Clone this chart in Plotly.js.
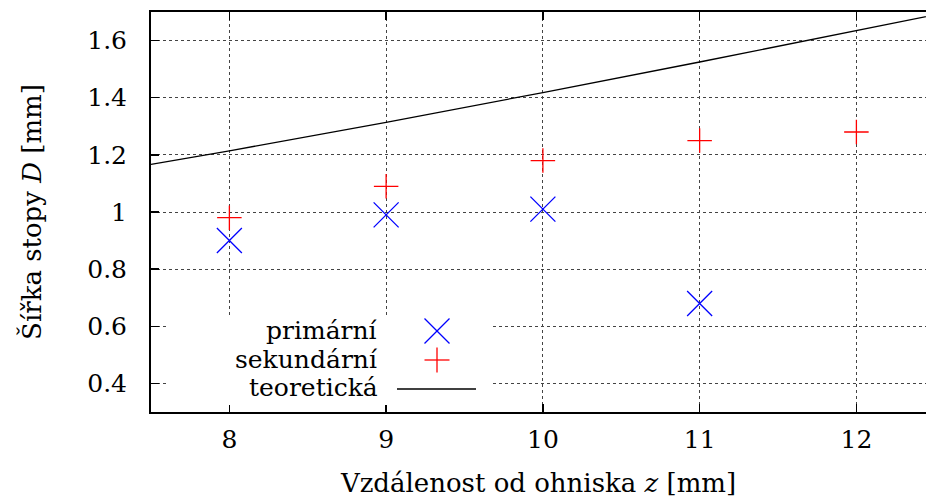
<!DOCTYPE html>
<html>
<head>
<meta charset="utf-8">
<script src="https://cdn.plot.ly/plotly-3.0.1.min.js"></script>
<style>html,body{margin:0;padding:0;background:#fff;}#chart{width:926px;height:500px;}</style>
</head>
<body>
<div id="chart"></div>
<script>
// Data
var zPoints = [8, 9, 10, 11];
var primarni = [0.90, 0.99, 1.01, 0.68];
var zSecondary = [8, 9, 10, 11, 12];
var sekundarni = [0.98, 1.09, 1.18, 1.25, 1.28];
var zTheory = [7.5, 8, 9, 10, 11, 12, 12.5];
var teoreticka = [1.167, 1.214, 1.314, 1.418, 1.525, 1.634, 1.69];
var xTicks = [8, 9, 10, 11, 12];
var yTicks = [0.4, 0.6, 0.8, 1, 1.2, 1.4, 1.6];
var yTickText = ['0.4', '0.6', '0.8', '1', '1.2', '1.4', '1.6'];
var legendLabels = ['primární', 'sekundární', 'teoretická'];

var FONT = 'DejaVu Serif';
var TFS = 25;   // tick labels
var FS = 26;    // axis titles
var LFS = 25;   // legend

var traces = [
  {x: zTheory, y: teoreticka, mode: 'lines', line: {color: '#000', width: 1.3}, name: legendLabels[2], showlegend: false, hoverinfo: 'skip'},
  {x: zPoints, y: primarni, mode: 'markers', marker: {symbol: 'x-thin', size: 25, line: {color: '#0000ff', width: 1.3}}, name: legendLabels[0], showlegend: false},
  {x: zSecondary, y: sekundarni, mode: 'markers', marker: {symbol: 'cross-thin', size: 17.5, line: {color: '#ff0000', width: 1.3}}, name: legendLabels[1], showlegend: false}
];

// custom legend (text left of sample, as in reference)
function px(v){ return (v - 151) / 775; }
function py(v){ return (412 - v) / 400; }
var rows = [331, 360, 389];
var textRows = [330, 359, 387];
var symX = 437, half = 12.5;
var shapes = [
  {type: 'rect', xref: 'paper', yref: 'paper', x0: px(168), x1: px(493), y0: py(405), y1: py(315), fillcolor: '#fff', line: {width: 0}, layer: 'above'},
  {type: 'line', xref: 'paper', yref: 'paper', x0: px(symX - half), x1: px(symX + half), y0: py(rows[0] - half), y1: py(rows[0] + half), line: {color: '#0000ff', width: 1.3}, layer: 'above'},
  {type: 'line', xref: 'paper', yref: 'paper', x0: px(symX - half), x1: px(symX + half), y0: py(rows[0] + half), y1: py(rows[0] - half), line: {color: '#0000ff', width: 1.3}, layer: 'above'},
  {type: 'line', xref: 'paper', yref: 'paper', x0: px(symX - half), x1: px(symX + half), y0: py(rows[1]), y1: py(rows[1]), line: {color: '#ff0000', width: 1.3}, layer: 'above'},
  {type: 'line', xref: 'paper', yref: 'paper', x0: px(symX), x1: px(symX), y0: py(rows[1] - half), y1: py(rows[1] + half), line: {color: '#ff0000', width: 1.3}, layer: 'above'},
  {type: 'line', xref: 'paper', yref: 'paper', x0: px(397), x1: px(476), y0: py(rows[2]), y1: py(rows[2]), line: {color: '#000', width: 1.3}, layer: 'above'}
];
var annotations = legendLabels.map(function(t, i){
  return {xref: 'paper', yref: 'paper', x: px(380), y: py(textRows[i]), xanchor: 'right', yanchor: 'middle', text: t, showarrow: false, font: {family: FONT, size: LFS, color: '#000'}};
});

var layout = {
  width: 926, height: 500,
  margin: {l: 151, r: 0, t: 12, b: 88, pad: 0},
  paper_bgcolor: '#fff', plot_bgcolor: '#fff',
  showlegend: false,
  font: {family: FONT, size: FS, color: '#000'},
  xaxis: {
    range: [7.5, 12.444], tickvals: xTicks, ticktext: xTicks.map(String),
    ticks: 'inside', ticklen: 8, tickwidth: 1.3, tickcolor: '#000',
    showline: true, linecolor: '#000', linewidth: 2, mirror: 'ticks',
    showgrid: true, gridcolor: '#444', griddash: 'dot', gridwidth: 1,
    zeroline: false, tickfont: {family: FONT, size: TFS}, ticklabelstandoff: 4,
    title: {text: 'Vzdálenost od ohniska <i>z</i> [mm]', font: {family: FONT, size: FS}, standoff: 21}
  },
  yaxis: {
    range: [0.3, 1.7], tickvals: yTicks, ticktext: yTickText,
    ticks: 'inside', ticklen: 8, tickwidth: 1.3, tickcolor: '#000',
    showline: true, linecolor: '#000', linewidth: 2, mirror: false,
    showgrid: true, gridcolor: '#444', griddash: 'dot', gridwidth: 1,
    zeroline: false, tickfont: {family: FONT, size: TFS}, ticklabelstandoff: 17,
    title: {text: 'Šířka stopy <i>D</i> [mm]', font: {family: FONT, size: FS}, standoff: 38}
  },
  shapes: shapes,
  annotations: annotations
};

Plotly.newPlot('chart', traces, layout, {staticPlot: true, displayModeBar: false});
</script>
</body>
</html>
